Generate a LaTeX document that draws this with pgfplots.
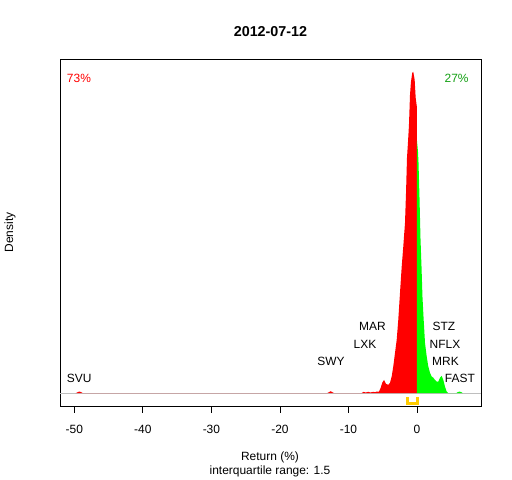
\documentclass[border=0pt]{standalone}
\usepackage{fontspec}
\setmainfont{Liberation Sans}
\usepackage{pgfplots}
\pgfplotsset{compat=1.18}
\definecolor{rred}{RGB}{255,0,0}
\definecolor{rgreen}{RGB}{0,255,0}
\definecolor{tgreen}{RGB}{20,160,20}
\definecolor{iqr}{RGB}{255,204,0}
\definecolor{base}{RGB}{190,190,190}
\begin{document}
\begin{tikzpicture}
\useasboundingbox (-60bp,-74bp) rectangle (452bp,406bp);
\begin{axis}[at={(0,0)}, anchor=south west, scale only axis,
  width=421bp, height=347bp,
  xmin=-52.09, xmax=9.34, ymin=-0.04, ymax=1.04,
  axis line style={line width=0.8bp},
  xtick={-50,-40,-30,-20,-10,0},
  xticklabels={-50,-40,-30,-20,-10,0},
  xtick pos=bottom, xtick align=outside, major tick length=7bp,
  every tick/.style={black, line width=0.8bp},
  ytick=\empty,
  xticklabel style={font=\fontsize{12}{14}\selectfont, yshift=-8.5bp},
  clip=false]
% baseline
\addplot[base, line width=0.8bp] coordinates {(-52.09,0) (9.34,0)};
% red density (x < 0)
\addplot[fill=rred, draw=none] coordinates {
(-49.8,0) (-49.5,0.003) (-49.25,0.005) (-49.0,0.003) (-48.75,0)
(-13.1,0) (-12.85,0.003) (-12.6,0.006) (-12.35,0.003) (-12.1,0)
(-8.1,0) (-7.8,0.004) (-7.5,0.002) (-7.1,0.004) (-6.8,0.002) (-6.4,0.004) (-6.1,0.003)
(-5.9,0.005) (-5.54,0.005) (-5.30,0.0165) (-5.06,0.033) (-4.81,0.041) (-4.52,0.029)
(-4.19,0.026) (-3.94,0.032) (-3.69,0.052) (-3.46,0.083) (-3.21,0.125) (-2.96,0.166)
(-2.73,0.228) (-2.48,0.312) (-2.23,0.394) (-2.00,0.456) (-1.75,0.53) (-1.60,0.623)
(-1.46,0.732) (-1.31,0.782) (-1.17,0.835) (-1.02,0.928) (-0.88,0.969) (-0.69,0.997)
(-0.54,1.0) (-0.34,0.975) (-0.19,0.919) (0,0.888) (0,0)
} -- cycle;
% green density (x > 0)
\addplot[fill=rgreen, draw=none] coordinates {
(0,0) (0,0.785) (0.15,0.75) (0.22,0.718) (0.36,0.615) (0.51,0.482) (0.66,0.393)
(0.80,0.300) (0.95,0.238) (1.17,0.156) (1.42,0.114) (1.65,0.083) (1.90,0.063)
(2.14,0.052) (2.38,0.048) (2.63,0.041) (2.87,0.036) (3.11,0.036) (3.36,0.048)
(3.60,0.054) (3.84,0.041) (4.08,0.021) (4.33,0.005) (4.56,0)
(5.7,0) (5.95,0.003) (6.2,0.005) (6.45,0.003) (6.7,0)
} -- cycle;
% interquartile range bracket
\addplot[iqr, line width=2.5bp] coordinates {(-1.4,-0.013) (-1.4,-0.032) (0.1,-0.032) (0.1,-0.013)};
% stock labels
\node[font=\fontsize{12}{14}\selectfont] at (axis cs:-49.3,0.047) {SVU};
\node[font=\fontsize{12}{14}\selectfont] at (axis cs:-12.55,0.098) {SWY};
\node[font=\fontsize{12}{14}\selectfont] at (axis cs:-6.49,0.207) {MAR};
\node[font=\fontsize{12}{14}\selectfont] at (axis cs:-7.59,0.153) {LXK};
\node[font=\fontsize{12}{14}\selectfont] at (axis cs:3.94,0.207) {STZ};
\node[font=\fontsize{12}{14}\selectfont] at (axis cs:4.09,0.153) {NFLX};
\node[font=\fontsize{12}{14}\selectfont] at (axis cs:4.16,0.098) {MRK};
\node[font=\fontsize{12}{14}\selectfont] at (axis cs:6.26,0.047) {FAST};
% percentages
\node[font=\fontsize{12}{14}\selectfont, text=rred] at (rel axis cs:0.045,0.945) {73\%};
\node[font=\fontsize{12}{14}\selectfont, text=tgreen] at (rel axis cs:0.942,0.945) {27\%};
\end{axis}
\node[font=\bfseries\fontsize{14.4}{16}\selectfont] at (210.5bp,374bp) {2012-07-12};
\node[font=\fontsize{12}{14}\selectfont, rotate=90] at (-50bp,173.5bp) {Density};
\node[font=\fontsize{12}{14}\selectfont] at (210bp,-51.7bp) {Return (\%)};
\node[font=\fontsize{12}{14}\selectfont] at (210bp,-65bp) {interquartile range: 1.5};
\end{tikzpicture}
\end{document}
